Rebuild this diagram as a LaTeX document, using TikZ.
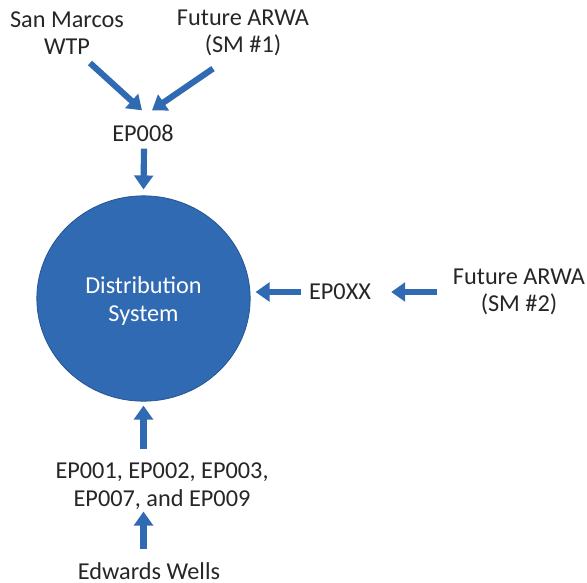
\documentclass[tikz,border=0pt]{standalone}
\usepackage{fontspec}
\setmainfont{Carlito}
\usepackage{tikz}
\usetikzlibrary{arrows.meta,shapes.geometric}
\definecolor{flowblue}{RGB}{47,106,178}
\definecolor{rimblue}{RGB}{38,86,146}

\begin{document}
\begin{tikzpicture}[x=0.75pt,y=-0.75pt,
        label/.style={inner sep=0pt, align=center, font=\fontsize{18.2}{20.8}\selectfont, text=black!85},
        flow/.style={flowblue, line width=4.6pt, -{Triangle[length=10.5pt,width=14pt]}}]
        \useasboundingbox (0,0) rectangle (587,583);

        % Draw the system
        \node[ellipse, draw=rimblue, line width=0.6pt, fill=flowblue, minimum width=160pt, minimum height=154pt,
              inner sep=0pt] (dist) at (143.5,298.5) {};
        \node[label, text=white] (distlabel) at (143.5,301) {Distribution\\System};

        % Labels for the sources
        \node[label] (wtp) at (67,33) {San Marcos\\WTP};
        \node[label] (arwa1) at (243,33) {Future ARWA\\(SM \#1)};
        \node[label] (ep008) at (143,133) {EP008};
        \node[label] (epxx) at (340,292) {EP0XX};
        \node[label] (arwa2) at (519,292) {Future ARWA\\(SM \#2)};
        \node[label] (epmain) at (162,486) {EP001, EP002, EP003,\\EP007, and EP009};
        \node[label] (wells) at (149,571) {Edwards Wells};

        % Draw the arrows
        %top
        \draw[flow] ([shift={(23,8)}]wtp.south) -- ([shift={(-1,-14)}]ep008.north);
        \draw[flow] ([shift={(-30,12)}]arwa1.south) -- ([shift={(9,-14)}]ep008.north);
        \draw[flow] ([shift={(1,7)}]ep008.south) -- ([shift={(0,-6)}]dist.north);
        %right
        \draw[flow] ([shift={(-8,0)}]epxx.west) -- ([shift={(5,0)}]epxx.west -| dist.east);
        \draw[flow] ([shift={(-16,0)}]arwa2.west) -- ([shift={(20,0)}]epxx.east);
        %bottom
        \draw[flow] ([shift={(0,-13)}]epmain.north -| dist.south) -- ([shift={(0,4)}]dist.south);
        \draw[flow] ([shift={(0,-13)}]wells.north -| dist.south) -- ([shift={(0,2)}]epmain.south -| dist.south);
\end{tikzpicture}
\end{document}
